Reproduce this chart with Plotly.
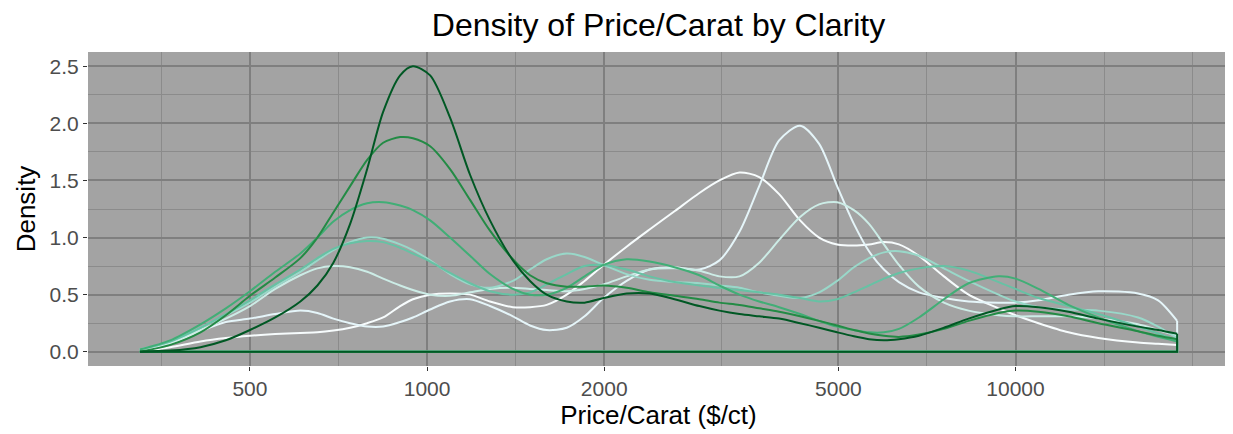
import numpy as np
import plotly.graph_objects as go

# Price per carat sample points ($/ct) shared by all curves
price = [325, 366, 412, 455, 500, 552, 609, 651, 693, 740, 791, 842, 900, 946, 1012,
         1094, 1183, 1279, 1399, 1496, 1597, 1727, 1852, 1995, 2183, 2388, 2633, 2902,
         3139, 3395, 3668, 3965, 4304, 4637, 4975, 5312, 5636, 5975, 6336, 6853, 7556,
         8322, 9357, 10000, 10940, 12300, 13830, 16150, 17470, 18820]

clarity = ["I1", "SI2", "SI1", "VS2", "VS1", "VVS2", "VVS1", "IF"]

d_I1 = [0.0, 0.04, 0.09, 0.12, 0.14, 0.155, 0.165, 0.17, 0.185, 0.21, 0.25, 0.30, 0.40, 0.46, 0.50,
        0.51, 0.50, 0.44, 0.39, 0.39, 0.41, 0.50, 0.62, 0.76, 0.92, 1.07, 1.23, 1.39,
        1.50, 1.57, 1.53, 1.38, 1.15, 1.00, 0.94, 0.93, 0.94, 0.96, 0.94, 0.84, 0.66,
        0.50, 0.38, 0.32, 0.25, 0.17, 0.12, 0.08, 0.07, 0.06]
d_SI2 = [0.0, 0.07, 0.18, 0.26, 0.29, 0.33, 0.36, 0.34, 0.29, 0.25, 0.22, 0.22, 0.26, 0.30, 0.37,
         0.44, 0.46, 0.40, 0.31, 0.23, 0.19, 0.21, 0.31, 0.47, 0.62, 0.72, 0.74, 0.72,
         0.80, 1.05, 1.45, 1.85, 1.98, 1.82, 1.45, 1.12, 0.88, 0.72, 0.61, 0.52, 0.47,
         0.44, 0.43, 0.43, 0.45, 0.50, 0.53, 0.51, 0.45, 0.27]
d_SI1 = [0.02, 0.08, 0.19, 0.29, 0.40, 0.55, 0.67, 0.73, 0.75, 0.74, 0.70, 0.64, 0.58, 0.54, 0.50,
         0.49, 0.52, 0.55, 0.56, 0.55, 0.54, 0.53, 0.55, 0.59, 0.66, 0.72, 0.73, 0.71,
         0.66, 0.66, 0.78, 0.98, 1.18, 1.29, 1.31, 1.24, 1.12, 0.94, 0.76, 0.57, 0.43,
         0.36, 0.32, 0.31, 0.31, 0.31, 0.29, 0.24, 0.19, 0.14]
d_VS2 = [0.02, 0.09, 0.21, 0.32, 0.43, 0.57, 0.70, 0.80, 0.89, 0.96, 1.00, 0.99, 0.94, 0.89, 0.80,
         0.68, 0.59, 0.56, 0.62, 0.72, 0.81, 0.86, 0.83, 0.76, 0.68, 0.63, 0.61, 0.60,
         0.58, 0.56, 0.52, 0.49, 0.47, 0.52, 0.62, 0.74, 0.82, 0.87, 0.88, 0.84, 0.73,
         0.62, 0.50, 0.44, 0.39, 0.37, 0.36, 0.30, 0.22, 0.12]
d_VS1 = [0.02, 0.09, 0.21, 0.33, 0.45, 0.59, 0.72, 0.82, 0.90, 0.95, 0.97, 0.96, 0.91, 0.86, 0.79,
         0.69, 0.60, 0.53, 0.50, 0.52, 0.59, 0.68, 0.75, 0.76, 0.72, 0.66, 0.61, 0.58,
         0.56, 0.54, 0.52, 0.50, 0.47, 0.44, 0.46, 0.52, 0.58, 0.64, 0.69, 0.73, 0.75,
         0.71, 0.61, 0.55, 0.47, 0.40, 0.33, 0.22, 0.16, 0.10]
d_VVS2 = [0.02, 0.10, 0.24, 0.38, 0.53, 0.70, 0.86, 1.00, 1.14, 1.24, 1.30, 1.31, 1.28, 1.24, 1.15,
          1.00, 0.84, 0.68, 0.55, 0.50, 0.50, 0.56, 0.66, 0.76, 0.81, 0.79, 0.74, 0.67,
          0.58, 0.50, 0.44, 0.39, 0.33, 0.27, 0.22, 0.19, 0.17, 0.17, 0.20, 0.30, 0.46,
          0.60, 0.66, 0.64, 0.55, 0.41, 0.30, 0.18, 0.13, 0.09]
d_VVS1 = [0.0, 0.06, 0.17, 0.32, 0.49, 0.65, 0.82, 1.00, 1.22, 1.45, 1.68, 1.83, 1.88, 1.87, 1.80,
          1.60, 1.33, 1.06, 0.81, 0.67, 0.60, 0.57, 0.57, 0.58, 0.56, 0.52, 0.49, 0.46,
          0.43, 0.41, 0.38, 0.35, 0.31, 0.27, 0.23, 0.19, 0.16, 0.14, 0.13, 0.15, 0.20,
          0.27, 0.34, 0.36, 0.35, 0.31, 0.25, 0.18, 0.14, 0.11]
d_IF = [0.0, 0.01, 0.04, 0.10, 0.19, 0.30, 0.44, 0.58, 0.78, 1.12, 1.60, 2.10, 2.42, 2.50, 2.42,
        2.05, 1.55, 1.15, 0.80, 0.62, 0.50, 0.44, 0.43, 0.47, 0.51, 0.51, 0.46, 0.40,
        0.36, 0.33, 0.31, 0.29, 0.25, 0.21, 0.17, 0.135, 0.11, 0.10, 0.11, 0.14, 0.21,
        0.29, 0.37, 0.40, 0.39, 0.35, 0.29, 0.22, 0.19, 0.157]

densities = [d_I1, d_SI2, d_SI1, d_VS2, d_VS1, d_VVS2, d_VVS1, d_IF]
colors = ["#F7FCFD", "#E5F5F9", "#CCECE6", "#99D8C9", "#66C2A4", "#41AE76", "#238B45", "#005824"]

x_ticks = [500, 1000, 2000, 5000, 10000]
x_minor = [353.6, 707.1, 1414.2, 3162.3, 7071.1, 14142.1, 20000]
y_ticks = [0.0, 0.5, 1.0, 1.5, 2.0, 2.5]

fig = go.Figure()
for name, dens, col in zip(clarity, densities, colors):
    fig.add_trace(go.Scatter(x=price, y=dens, mode="lines", name=name,
                             line=dict(color=col, width=2, shape="spline", smoothing=0.8),
                             hoverinfo="skip", showlegend=False))
    # closing outline of the density polygon (right edge and baseline)
    fig.add_trace(go.Scatter(x=[price[-1], price[-1], price[0]], y=[dens[-1], 0, 0],
                             mode="lines", line=dict(color=col, width=2),
                             hoverinfo="skip", showlegend=False))

lo, hi = np.log10(min(price)), np.log10(max(price))
pad = 0.05 * (hi - lo)
ymax = max(max(d) for d in densities)

W, H = 1225, 426   # page body adds an 8px offset inside the 1233x434 window
font = "Liberation Sans, Arial, Helvetica, sans-serif"
fig.update_layout(
    width=W, height=H,
    margin=dict(l=80, r=4, t=44, b=68, autoexpand=False),
    paper_bgcolor="white", plot_bgcolor="#A3A3A3",
    font=dict(family=font, color="#000000"),
    title=dict(text="Density of Price/Carat by Clarity", x=0.5, xref="paper",
               y=1 - 17 / H, yref="container", yanchor="middle", xanchor="center",
               font=dict(size=32, color="#000000")),
    xaxis=dict(type="log", range=[lo - pad, hi + pad], automargin=False,
               tickmode="array", tickvals=x_ticks, ticktext=[str(v) for v in x_ticks],
               showgrid=True, gridcolor="#7F7F7F", gridwidth=1.6,
               minor=dict(tickmode="array", tickvals=x_minor, showgrid=True,
                          gridcolor="#8B8B8B", gridwidth=1, ticks=""),
               ticks="outside", ticklen=4, tickwidth=1.3, tickcolor="#333333",
               tickfont=dict(size=21, color="#4D4D4D"),
               zeroline=False, showline=False,
               title=dict(text="Price/Carat ($/ct)", font=dict(size=26, color="#000000"), standoff=2)),
    yaxis=dict(range=[-0.05 * ymax, 1.05 * ymax], automargin=False,
               tickmode="array", tickvals=y_ticks, ticktext=[f"{v:.1f}" for v in y_ticks],
               showgrid=True, gridcolor="#7F7F7F", gridwidth=1.6,
               minor=dict(dtick=0.25, showgrid=True, gridcolor="#8B8B8B", gridwidth=1, ticks=""),
               ticks="outside", ticklen=4, tickwidth=1.3, tickcolor="#333333",
               tickfont=dict(size=21, color="#4D4D4D"),
               zeroline=False, showline=False,
               title=dict(text="Density", font=dict(size=26, color="#000000"), standoff=6)),
)

fig.write_html("out.html")
